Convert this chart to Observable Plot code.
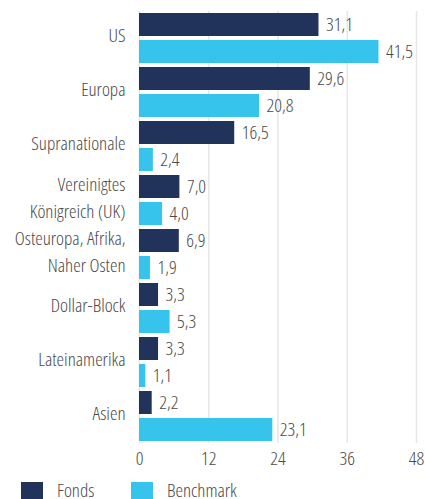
<!DOCTYPE html>
<html>
<head>
<meta charset="utf-8">
<script src="https://cdn.jsdelivr.net/npm/d3@7"></script>
<script src="https://cdn.jsdelivr.net/npm/@observablehq/plot@0.6"></script>
<style>
  body { margin: 0; background: #fff; font-family: "Open Sans", sans-serif; font-stretch: 75%; font-weight: 300; }
  #chart svg { display: block; font-stretch: 75%; font-weight: 300; }
  #chart svg text { font-stretch: 75%; font-weight: 300; }
  .legend { display: flex; align-items: flex-start; margin-top: 7px; font-size: 19px; line-height: 17px; color: #4a4a4a; }
  .legend .item { display: flex; align-items: flex-start; }
  .legend .sw { width: 22px; height: 17px; display: inline-block; }
</style>
</head>
<body>
<div id="chart"></div>
<script>
const categories = ["US", "Europa", "Supranationale", "Vereinigtes\nKönigreich (UK)", "Osteuropa, Afrika,\nNaher Osten", "Dollar-Block", "Lateinamerika", "Asien"];
const series = ["Fonds", "Benchmark"];
const fondsValues = [31.1, 29.6, 16.5, 7.0, 6.9, 3.3, 3.3, 2.2];
const benchmarkValues = [41.5, 20.8, 2.4, 4.0, 1.9, 5.3, 1.1, 23.1];
const xTicks = [0, 12, 24, 36, 48];
const colors = ["#22335b", "#37c4ec"];

const data = categories.flatMap((c, i) => [
  {cat: c, series: "Fonds", value: fondsValues[i]},
  {cat: c, series: "Benchmark", value: benchmarkValues[i]}
]);
const fmt = v => d3.format(".1f")(v).replace(".", ",");
const fontFamily = '"Open Sans", sans-serif';

const chart = Plot.plot({
  width: 425,
  height: 475,
  marginLeft: 139,
  marginRight: 9,
  marginTop: 9,
  marginBottom: 31,
  style: {fontFamily, fontSize: "19px", color: "#4a4a4a", background: "#fff"},
  x: {domain: [0, 48]},
  y: {domain: series, paddingInner: 0.15, paddingOuter: 0.075, axis: null},
  fy: {domain: categories, padding: 0},
  color: {domain: series, range: colors},
  marks: [
    Plot.gridX(xTicks, {stroke: "#e6e6e6", strokeOpacity: 1, strokeWidth: 1.5}),
    Plot.barX(data, {x: "value", y: "series", fy: "cat", fill: "series"}),
    Plot.text(data, {x: "value", y: "series", fy: "cat", text: d => fmt(d.value), textAnchor: "start", dx: 7, fill: "#4a4a4a", fontSize: 19}),
    Plot.axisFy({anchor: "left", tickSize: 0, tickPadding: 14, dy: -5, lineHeight: 1.45, label: null, fontSize: 19, fill: "#4a4a4a"}),
    Plot.axisX(xTicks, {anchor: "bottom", tickSize: 0, tickPadding: 8, label: null, fontSize: 19, fill: "#4a4a4a"})
  ]
});
document.getElementById("chart").appendChild(chart);

const legend = document.createElement("div");
legend.className = "legend";
series.forEach((s, i) => {
  const item = document.createElement("div");
  item.className = "item";
  item.style.marginLeft = i === 0 ? "21px" : "0px";
  item.style.width = i === 0 ? "110px" : "auto";
  const sw = document.createElement("span");
  sw.className = "sw";
  sw.style.background = colors[i];
  const t = document.createElement("span");
  t.textContent = s;
  t.style.marginLeft = "14px";
  item.appendChild(sw);
  item.appendChild(t);
  legend.appendChild(item);
});
document.body.appendChild(legend);
</script>
</body>
</html>
